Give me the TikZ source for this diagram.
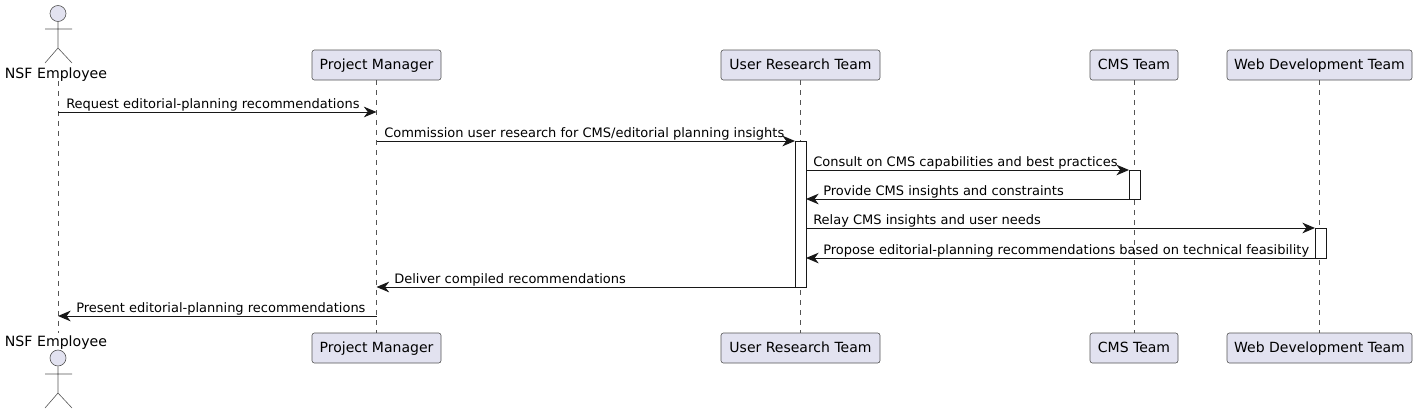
\documentclass[tikz,border=0pt]{standalone}
\usepackage{fontspec}
\setmainfont{DejaVu Sans}
\usetikzlibrary{arrows.meta}
\definecolor{partfill}{HTML}{E2E2F0}
\definecolor{partline}{HTML}{181818}
\definecolor{softline}{HTML}{555555}
\tikzset{
    partbox/.style={draw=softline,fill=partfill,rounded corners=1.8pt,line width=0.45pt,
        inner sep=0pt,minimum height=22.5pt,text height=9pt,text depth=1.6pt,
        font=\fontsize{10.5pt}{12pt}\selectfont},
    actorline/.style={draw=softline,line width=0.45pt},
    lifeline/.style={draw=softline,line width=0.4pt,dash pattern=on 3.75pt off 3.75pt},
    actbox/.style={draw=partline,fill=white,line width=0.6pt},
    msg/.style={draw=partline,line width=0.75pt,-{Stealth[length=9.5pt,width=8pt,inset=3pt]}},
    msgtext/.style={inner sep=0pt,anchor=base west,font=\fontsize{9.75pt}{12pt}\selectfont},
    actortext/.style={inner sep=0pt,font=\fontsize{10.6pt}{12pt}\selectfont}
}
\begin{document}
\begin{tikzpicture}[x=0.75pt,y=-0.75pt]
        \useasboundingbox (0,0) rectangle (1420,414);

        % participants
        \node[actortext] (NSFt) at (56,74.5) {NSF Employee};
        \node[partbox,minimum width=96.75pt] (PMt) at (376.5,65) {Project Manager};
        \node[partbox,minimum width=119.25pt] (URt) at (800.5,65) {User Research Team};
        \node[partbox,minimum width=66pt] (CMSt) at (1134,65) {CMS Team};
        \node[partbox,minimum width=138.75pt] (WEBt) at (1319.5,65) {Web Development Team};

        \node[actortext] (NSFb) at (56,342.5) {NSF Employee};
        \node[partbox,minimum width=96.75pt] (PMb) at (376.5,348) {Project Manager};
        \node[partbox,minimum width=119.25pt] (URb) at (800.5,348) {User Research Team};
        \node[partbox,minimum width=66pt] (CMSb) at (1134,348) {CMS Team};
        \node[partbox,minimum width=138.75pt] (WEBb) at (1319.5,348) {Web Development Team};

        % lifelines
        \coordinate (NSFu) at (58,81);
        \coordinate (NSFd) at (58,333);
        \path[lifeline] (NSFu) -- (NSFd);
        \path[lifeline] (PMt) -- (PMb);
        \path[lifeline] (URt) -- (URb);
        \path[lifeline] (CMSt) -- (CMSb);
        \path[lifeline] (WEBt) -- (WEBb);

        % actors
        \node[circle,draw=softline,fill=partfill,line width=0.45pt,inner sep=0pt,minimum size=12pt] (headt) at (58,13.5) {};
        \draw[actorline] (headt) -- (58,48) (45,29) -- (72,29) (45,63) -- (58,48) -- (72,63);
        \node[circle,draw=softline,fill=partfill,line width=0.45pt,inner sep=0pt,minimum size=12pt] (headb) at (58,358) {};
        \draw[actorline] (headb) -- (58,393) (45,374) -- (72,374) (45,408) -- (58,393) -- (72,408);

        % activations
        \coordinate (URa) at (795,141);
        \coordinate (URz) at (806,287);
        \coordinate (CMSa) at (1129,170);
        \coordinate (CMSz) at (1140,199);
        \coordinate (WEBa) at (1315,228);
        \coordinate (WEBz) at (1326,258);
        \draw[actbox] (URa) rectangle (URz);
        \draw[actbox] (CMSa) rectangle (CMSz);
        \draw[actbox] (WEBa) rectangle (WEBz);

        % message ends
        \coordinate (A1) at (58,112);
        \coordinate (B1) at (376.5,112);
        \coordinate (A2) at (376.5,141);
        \coordinate (B2) at (795,141);
        \coordinate (A3) at (806,170);
        \coordinate (B3) at (1129,170);
        \coordinate (A4) at (1129,199);
        \coordinate (B4) at (806,199);
        \coordinate (A5) at (806,228);
        \coordinate (B5) at (1315,228);
        \coordinate (A6) at (1315,258);
        \coordinate (B6) at (806,258);
        \coordinate (A7) at (795,287);
        \coordinate (B7) at (376.5,287);
        \coordinate (A8) at (376.5,316);
        \coordinate (B8) at (58,316);

        \draw[msg] (A1) -- (B1);
        \draw[msg] (A2) -- (B2);
        \draw[msg] (A3) -- (B3);
        \draw[msg] (A4) -- (B4);
        \draw[msg] (A5) -- (B5);
        \draw[msg] (A6) -- (B6);
        \draw[msg] (A7) -- (B7);
        \draw[msg] (A8) -- (B8);

        % message labels
        \node[msgtext] (L1) at (66,108) {Request editorial-planning recommendations};
        \node[msgtext] (L2) at (384,137) {Commission user research for CMS/editorial planning insights};
        \node[msgtext] (L3) at (813,166) {Consult on CMS capabilities and best practices};
        \node[msgtext] (L4) at (823,195) {Provide CMS insights and constraints};
        \node[msgtext] (L5) at (813,224) {Relay CMS insights and user needs};
        \node[msgtext] (L6) at (823,254) {Propose editorial-planning recommendations based on technical feasibility};
        \node[msgtext] (L7) at (394,283) {Deliver compiled recommendations};
        \node[msgtext] (L8) at (76,312) {Present editorial-planning recommendations};
    \end{tikzpicture}
\end{document}
